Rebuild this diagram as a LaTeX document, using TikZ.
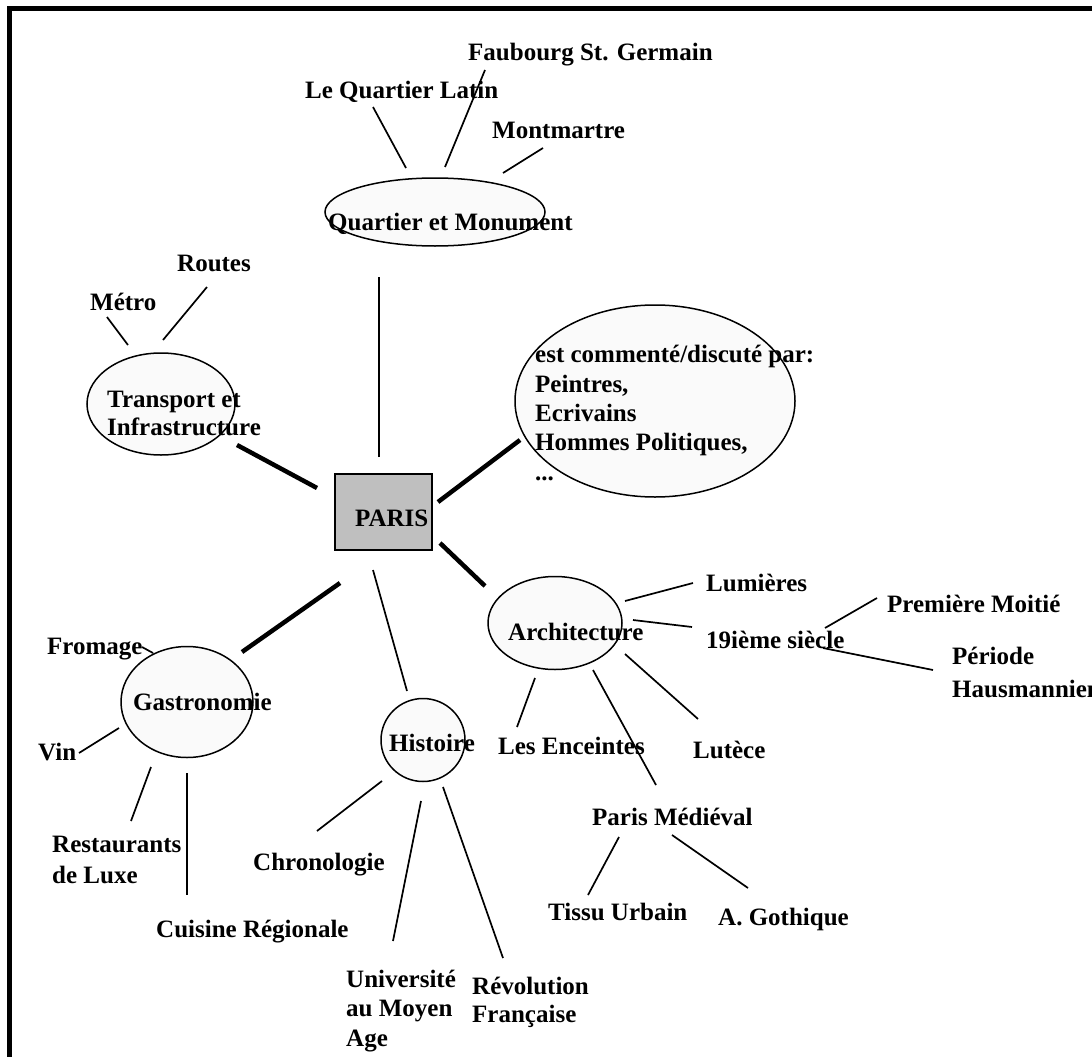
\documentclass[tikz,border=0pt]{standalone}
\usepackage{fontspec}
\setmainfont{Liberation Serif}
\usetikzlibrary{shapes.geometric}
\tikzset{
  lbl/.style={anchor=base west, inner sep=0pt, font=\fontsize{25}{29}\selectfont\bfseries},
  bubble/.style={ellipse, draw=black, line width=1.5pt, fill=black!2, inner sep=0pt},
  thin/.style={line width=1.7pt},
  thick/.style={line width=4.5pt},
  frame/.style={line width=5pt}
}
\begin{document}
\begin{tikzpicture}[x=1pt,y=-1pt]
\useasboundingbox (0,0) rectangle (1092,1057);
\fill[white] (-20,-20) rectangle (1112,1077);
\clip (0,0) rectangle (1092,1057);
% frame
\coordinate (f1) at (9.5,1060);
\coordinate (f2) at (9.5,6);
\coordinate (f3) at (7,8.5);
\coordinate (f4) at (1095,8.5);
\draw[frame] (f1) -- (f2);
\draw[frame] (f3) -- (f4);

% bubbles
\node[bubble, minimum width=220pt, minimum height=68pt] (qm) at (435,212) {};
\node[bubble, minimum width=148pt, minimum height=102pt] (tr) at (161,404) {};
\node[bubble, minimum width=280pt, minimum height=192pt] (cm) at (655,401) {};
\node[bubble, minimum width=134pt, minimum height=93pt] (ar) at (555,623) {};
\node[bubble, minimum width=132pt, minimum height=111pt] (ga) at (187,702) {};
\node[bubble, minimum width=84pt, minimum height=83pt] (hi) at (423,740) {};
\node[draw=black, line width=1.5pt, fill=black!25, minimum width=97pt, minimum height=76pt, inner sep=0pt] (pb) at (383.5,512) {};

% texts
\node[lbl] (tqm) at (328,230) {Quartier et Monument};
\node[lbl] (ttr1) at (107,407) {Transport et};
\node[lbl] (ttr2) at (107,435) {Infrastructure};
\node[lbl] (tcm1) at (535,362) {est commenté/discuté par:};
\node[lbl] (tcm2) at (535,392) {Peintres,};
\node[lbl] (tcm3) at (535,421) {Ecrivains};
\node[lbl] (tcm4) at (535,450) {Hommes Politiques,};
\node[lbl] (tcm5) at (535,480) {...};
\node[lbl] (tpa) at (355,526) {PARIS};
\node[lbl] (tar) at (508,640) {Architecture};
\node[lbl] (tga) at (133,710) {Gastronomie};
\node[lbl] (thi) at (389,751) {Histoire};

\node[lbl] (lql) at (305,98) {Le Quartier Latin};
\node[lbl] (lfg) at (468,60) {Faubourg St. Germain};
\node[lbl] (lmm) at (492,138) {Montmartre};
\node[lbl] (lme) at (90,310) {Métro};
\node[lbl] (lro) at (177,271) {Routes};
\node[lbl] (llu) at (706,591) {Lumières};
\node[lbl] (l19) at (706,648) {19ième siècle};
\node[lbl] (lpm) at (887,612) {Première Moitié};
\node[lbl] (lpe1) at (952,664) {Période};
\node[lbl] (lpe2) at (952,697) {Hausmannien};
\node[lbl] (len) at (498,754) {Les Enceintes};
\node[lbl] (llt) at (693,758) {Lutèce};
\node[lbl] (lpmd) at (592,825) {Paris Médiéval};
\node[lbl] (lti) at (548,920) {Tissu Urbain};
\node[lbl] (lgo) at (718,925) {A. Gothique};
\node[lbl] (lfr) at (47,654) {Fromage};
\node[lbl] (lvi) at (38,760) {Vin};
\node[lbl] (lre1) at (52,852) {Restaurants};
\node[lbl] (lre2) at (52,883) {de Luxe};
\node[lbl] (lcu) at (156,937) {Cuisine Régionale};
\node[lbl] (lch) at (253,870) {Chronologie};
\node[lbl] (lun1) at (346,987) {Université};
\node[lbl] (lun2) at (346,1016) {au Moyen};
\node[lbl] (lun3) at (346,1046) {Age};
\node[lbl] (lrv1) at (472,994) {Révolution};
\node[lbl] (lrv2) at (472,1022) {Française};

% connector end points
\coordinate (p-tr) at (317,488);   \coordinate (e-tr) at (237,445);
\coordinate (p-qm) at (379,457);   \coordinate (e-qm) at (379,277);
\coordinate (p-cm) at (438,502);   \coordinate (e-cm) at (520,440);
\coordinate (p-ar) at (440,543);   \coordinate (e-ar) at (485,586);
\coordinate (p-ga) at (340,583);   \coordinate (e-ga) at (242,652);
\coordinate (p-hi) at (373,570);   \coordinate (e-hi) at (407,691);

\coordinate (a1) at (406,168); \coordinate (b1) at (373,107);
\coordinate (a2) at (445,167); \coordinate (b2) at (485,70);
\coordinate (a3) at (503,173); \coordinate (b3) at (543,148);
\coordinate (a4) at (128,345); \coordinate (b4) at (107,317);
\coordinate (a5) at (163,340); \coordinate (b5) at (207,287);
\coordinate (a6) at (625,601); \coordinate (b6) at (693,583);
\coordinate (a7) at (633,620); \coordinate (b7) at (692,627);
\coordinate (a8) at (625,654); \coordinate (b8) at (698,719);
\coordinate (a9) at (535,678); \coordinate (b9) at (517,727);
\coordinate (a10) at (593,670); \coordinate (b10) at (656,785);
\coordinate (a11) at (825,628); \coordinate (b11) at (877,598);
\coordinate (a12) at (823,648); \coordinate (b12) at (933,670);
\coordinate (a13) at (619,837); \coordinate (b13) at (588,895);
\coordinate (a14) at (672,835); \coordinate (b14) at (748,888);
\coordinate (a15) at (153,653); \coordinate (b15) at (142,647);
\coordinate (a16) at (119,728); \coordinate (b16) at (79,753);
\coordinate (a17) at (151,767); \coordinate (b17) at (131,821);
\coordinate (a18) at (187,773); \coordinate (b18) at (187,895);
\coordinate (a19) at (382,781); \coordinate (b19) at (317,831);
\coordinate (a20) at (421,801); \coordinate (b20) at (393,941);
\coordinate (a21) at (443,787); \coordinate (b21) at (503,958);

% connectors from PARIS
\draw[thick] (p-tr) -- (e-tr);
\draw[thin]  (p-qm) -- (e-qm);
\draw[thick] (p-cm) -- (e-cm);
\draw[thick] (p-ar) -- (e-ar);
\draw[thick] (p-ga) -- (e-ga);
\draw[thin]  (p-hi) -- (e-hi);

% sub connectors
\foreach \i in {1,...,21} { \draw[thin] (a\i) -- (b\i); }
\end{tikzpicture}
\end{document}
